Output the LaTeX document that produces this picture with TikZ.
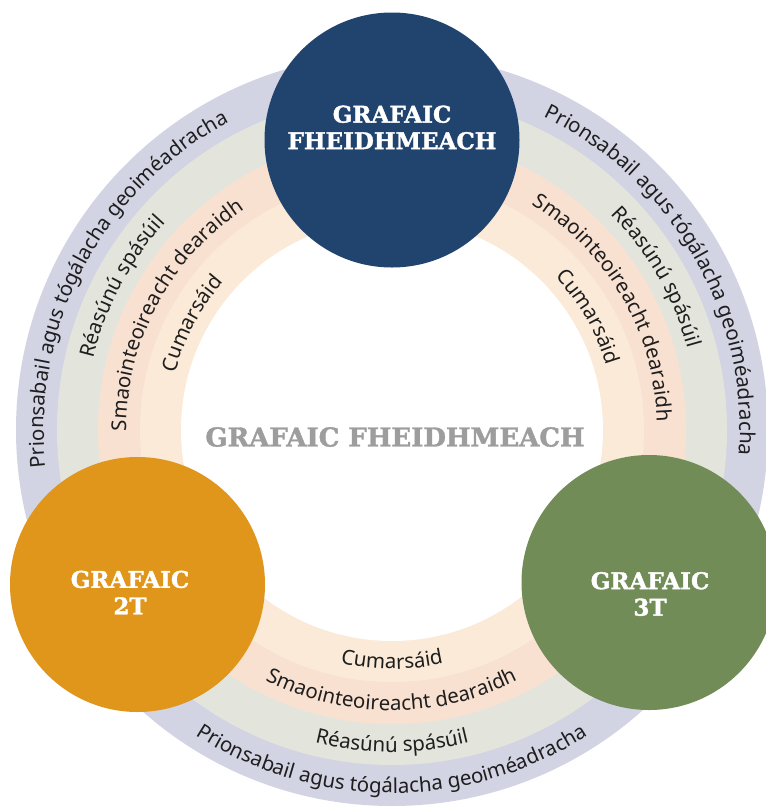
\documentclass[tikz,border=0pt]{standalone}
\usepackage{fontspec}
\setmainfont{Noto Sans}
\newfontfamily\slabfont{DejaVu Serif}[BoldFeatures={FakeBold=1.5}]
\usetikzlibrary{decorations.text}

\definecolor{lavband}{HTML}{D2D3E3}
\definecolor{sageband}{HTML}{E3E5DC}
\definecolor{peachband}{HTML}{F9E1D2}
\definecolor{creamband}{HTML}{FAEAD7}
\definecolor{navyfill}{HTML}{21446F}
\definecolor{orangefill}{HTML}{E0951B}
\definecolor{greenfill}{HTML}{728C57}
\definecolor{titlegray}{HTML}{9D9D9D}
\definecolor{ringink}{HTML}{1E1E1E}

\newcommand\ringfont{\fontsize{20.5}{24}\selectfont}

\begin{document}
\begin{tikzpicture}
[x=1pt, y=1pt,
bigcirc/.style={circle, minimum size=255pt, inner sep=0pt},
circlabel/.style={align=center, inner sep=0pt, text=white, font=\slabfont\bfseries\fontsize{23}{26.5}\selectfont},
ringtext/.style={decorate, decoration={text along path, text align=center, text color=ringink}}
]

\useasboundingbox (0,0) rectangle (766,-807);
\fill[white] (0,0) rectangle (766,-807);
\clip (0,0) rectangle (766,-807);

\begin{scope}[shift={(392,-430)}]
% Bands
  \foreach \r/\col in {376/lavband, 335/sageband, 294/peachband, 252/creamband, 211/white} {
    \fill[\col] (0,0) circle (\r);
  }

% Band Texts
  \foreach \txt/\rr in {Prionsabail agus tógálacha geoiméadracha/355.5, Réasúnú spásúil/314.5, Smaointeoireacht dearaidh/273, Cumarsáid/231.5} {
    \foreach \a in {152,30} {
      \path[ringtext, decoration={text/.expanded={|\noexpand\ringfont|\txt}}]
        (\a+50:\rr-7.5) arc[start angle=\a+50, end angle=\a-50, radius=\rr-7.5];
    }
    \path[ringtext, decoration={text/.expanded={|\noexpand\ringfont|\txt}}]
      (220:\rr+7.5) arc[start angle=220, end angle=320, radius=\rr+7.5];
  }
\end{scope}

\node[font=\slabfont\bfseries\fontsize{26}{30}\selectfont, text=titlegray, inner sep=0pt] (title) at (395,-437) {GRAFAIC FHEIDHMEACH};

% Circles
\node[bigcirc, fill=navyfill] (fheidh) at (392,-140) {};
\node[bigcirc, fill=orangefill] (grafa) at (137.5,-584.5) {};
\node[bigcirc, fill=greenfill] (grafb) at (649,-582.5) {};

\node[circlabel] (fheidhlbl) at (392,-127.5) {GRAFAIC\\FHEIDHMEACH};
\node[circlabel] (grafalbl) at (130,-592.5) {GRAFAIC\\2T};
\node[circlabel] (grafblbl) at (650,-594) {GRAFAIC\\3T};
\end{tikzpicture}
\end{document}
